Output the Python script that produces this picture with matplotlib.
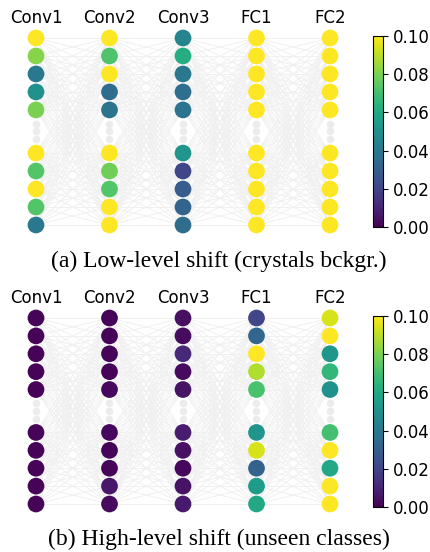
import matplotlib.pyplot as plt
import numpy as np

layers = ["Conv1", "Conv2", "Conv3", "FC1", "FC2"]

# (a) low-level shift
low_conv1 = [0.100, 0.082, 0.040, 0.050, 0.080, 0.100, 0.073, 0.100, 0.073, 0.040]
low_conv2 = [0.100, 0.072, 0.100, 0.035, 0.038, 0.100, 0.078, 0.073, 0.100, 0.100]
low_conv3 = [0.045, 0.062, 0.040, 0.036, 0.038, 0.052, 0.021, 0.029, 0.032, 0.035]
low_fc1 = [0.100, 0.100, 0.100, 0.100, 0.100, 0.100, 0.100, 0.100, 0.100, 0.100]
low_fc2 = [0.100, 0.100, 0.100, 0.100, 0.100, 0.100, 0.100, 0.100, 0.100, 0.100]

# (b) high-level shift
high_conv1 = [0.001, 0.001, 0.001, 0.001, 0.001, 0.001, 0.001, 0.001, 0.001, 0.001]
high_conv2 = [0.001, 0.001, 0.001, 0.001, 0.002, 0.002, 0.001, 0.001, 0.006, 0.003]
high_conv3 = [0.004, 0.003, 0.011, 0.003, 0.005, 0.008, 0.004, 0.002, 0.005, 0.007]
high_fc1 = [0.021, 0.033, 0.100, 0.088, 0.071, 0.052, 0.094, 0.031, 0.055, 0.060]
high_fc2 = [0.094, 0.100, 0.053, 0.066, 0.050, 0.070, 0.100, 0.060, 0.100, 0.100]

captions = ["(a) Low-level shift (crystals bckgr.)", "(b) High-level shift (unseen classes)"]

W, H = 431, 552
node_y = np.array([0, 1, 2, 3, 4, 6.4, 7.4, 8.4, 9.4, 10.4])
dot_y = np.array([4.78, 5.2, 5.62])


def draw_net(ax, cols, vmin=0.0, vmax=0.1):
    for i in range(len(cols) - 1):
        for ya in node_y:
            for yb in node_y:
                ax.plot([i, i + 1], [ya, yb], color="#f0f0f0", lw=0.7,
                        zorder=1, clip_on=False)
    sc = None
    for i, vals in enumerate(cols):
        ax.scatter(np.full(3, i), dot_y, s=30, color="#ececec", zorder=2,
                   clip_on=False, linewidths=0)
        sc = ax.scatter(np.full(10, i), node_y, c=vals, cmap="viridis",
                        vmin=vmin, vmax=vmax, s=145, zorder=3,
                        clip_on=False, linewidths=0)
        ax.annotate(layers[i], (i, 0), xytext=(0, 14.5), textcoords="offset points",
                    ha="center", va="center", fontsize=12, annotation_clip=False)
    ax.set_xlim(0, 4)
    ax.set_ylim(10.4, 0)
    ax.axis("off")
    return sc


fig = plt.figure(figsize=(W / 100, H / 100), dpi=100)

panels = [
    ([low_conv1, low_conv2, low_conv3, low_fc1, low_fc2], 38, 225, 36, 227, 261),
    ([high_conv1, high_conv2, high_conv3, high_fc1, high_fc2], 318, 504, 316, 507, 539),
]

for k, (cols, top, bot, ctop, cbot, capy) in enumerate(panels):
    ax = fig.add_axes([36 / W, 1 - bot / H, 294 / W, (bot - top) / H])
    sc = draw_net(ax, cols)
    cax = fig.add_axes([373 / W, 1 - cbot / H, 10 / W, (cbot - ctop) / H])
    cb = fig.colorbar(sc, cax=cax, ticks=[0, 0.02, 0.04, 0.06, 0.08, 0.10], format="%.2f")
    cb.ax.tick_params(labelsize=12)
    fig.text(219 / W, 1 - capy / H, captions[k], ha="center", va="center",
             fontsize=17, family="Liberation Serif")

fig.savefig("out.png", dpi=100)
